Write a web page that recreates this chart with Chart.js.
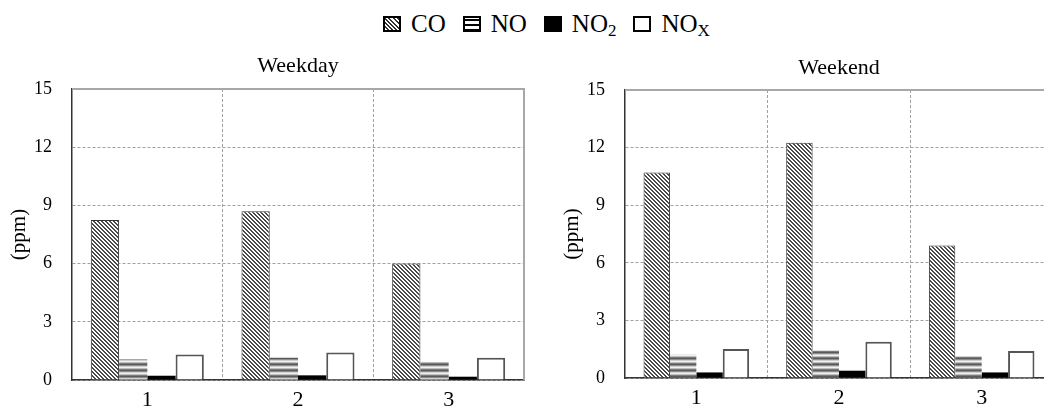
<!DOCTYPE html>
<html>
<head>
<meta charset="utf-8">
<script src="https://cdn.jsdelivr.net/npm/chart.js@4.4.1/dist/chart.umd.min.js"></script>
<style>
html, body { margin: 0; padding: 0; background: #fff; width: 1044px; height: 407px; overflow: hidden; }
body { position: relative; font-family: 'Liberation Serif', 'Times New Roman', serif; }
#legend { position: absolute; left: 383px; top: 10px; display: flex; align-items: baseline;
          font-size: 25px; line-height: 28px; color: #000; white-space: nowrap; }
#legend .item { display: flex; align-items: baseline; margin-right: 17px; }
#legend .box { display: inline-block; width: 14px; height: 12px; border: 2px solid #000; margin-right: 10px; box-sizing: content-box; }
#legend sub { font-size: 0.68em; vertical-align: -0.25em; line-height: 0; }
.wrap { position: absolute; top: 40px; }
</style>
</head>
<body>
<div id="legend"></div>
<div class="wrap" style="left:0px"><canvas id="weekday" width="540" height="400"></canvas></div>
<div class="wrap" style="left:553px"><canvas id="weekend" width="500" height="400"></canvas></div>
<script>
// sampling sites
const categories = ['1', '2', '3'];
const seriesLabels = ['CO', 'NO', 'NO₂', 'NOₓ'];
const legendLabels = ['CO', 'NO', 'NO<sub>2</sub>', 'NO<sub>X</sub>'];
const yTicks = [0, 3, 6, 9, 12, 15];

// Weekday (ppm)
const weekdayCO  = [8.25, 8.7, 6.0];
const weekdayNO  = [1.07, 1.15, 0.95];
const weekdayNO2 = [0.22, 0.24, 0.17];
const weekdayNOx = [1.32, 1.42, 1.15];

// Weekend (ppm)
const weekendCO  = [10.7, 12.25, 6.9];
const weekendNO  = [1.22, 1.43, 1.13];
const weekendNO2 = [0.29, 0.38, 0.29];
const weekendNOx = [1.51, 1.89, 1.41];

const FONT = 'Liberation Serif';

function tile(w, h, paint) {
    const c = document.createElement('canvas');
    c.width = w; c.height = h;
    const x = c.getContext('2d');
    paint(x);
    return x.createPattern(c, 'repeat');
}

// diagonal "\" hatching for CO
const hatch = tile(4, 4, x => {
    x.fillStyle = '#fff';
    x.fillRect(0, 0, 4, 4);
    x.fillStyle = '#4a4a4a';
    for (let i = 0; i < 4; i++) {
        x.fillRect(i, i, 1, 1);
        x.fillRect((i + 1) % 4, i, 1, 1);
    }
});

// grey horizontal bands for NO
const bands = tile(1, 6, x => {
    const rows = ['#5a5a5a', '#8c8c8c', '#cfcfcf', '#f2f2f2', '#bdbdbd', '#7a7a7a'];
    rows.forEach((c, i) => { x.fillStyle = c; x.fillRect(0, i, 1, 1); });
});

const styles = [
    { backgroundColor: hatch, borderColor: '#333', borderWidth: 1 },
    { backgroundColor: bands, borderWidth: 0 },
    { backgroundColor: '#000', borderWidth: 0 },
    { backgroundColor: '#fff', borderColor: '#555', borderWidth: 2 }
];

const legendBoxes = [
    'background: repeating-linear-gradient(45deg, #fff 0 1.5px, #333 1.5px 3px);',
    'background: repeating-linear-gradient(to bottom, #fff 0 1px, #000 1px 3px, #fff 3px 5px);',
    'background: #000;',
    'background: #fff;'
];

document.getElementById('legend').innerHTML = legendLabels.map((l, i) =>
    '<span class="item"><span class="box" style="' + legendBoxes[i] + '"></span><span>' + l + '</span></span>'
).join('');

const framePlugin = {
    id: 'frame',
    afterDatasetsDraw(chart) {
        const { ctx, chartArea: a } = chart;
        ctx.save();
        ctx.strokeStyle = '#a8a8a8';
        ctx.lineWidth = 2;
        ctx.beginPath();
        ctx.moveTo(a.left, a.top);
        ctx.lineTo(a.right, a.top);
        ctx.lineTo(a.right, a.bottom);
        ctx.stroke();
        ctx.restore();
    }
};

function makeChart(id, title, series, opt) {
    const config = {
        type: 'bar',
        data: {
            labels: categories,
            datasets: series.map((d, i) => Object.assign({
                label: seriesLabels[i],
                data: d,
                borderSkipped: 'start',
                categoryPercentage: opt.catPct,
                barPercentage: 1.0
            }, styles[i]))
        },
        options: {
            responsive: false,
            animation: false,
            layout: { padding: { left: 0, right: opt.padRight, top: 0, bottom: 0 } },
            plugins: {
                legend: { display: false },
                tooltip: { enabled: false },
                title: {
                    display: true,
                    text: title,
                    fullSize: false,
                    color: '#000',
                    font: { family: FONT, size: 22, weight: 'normal' },
                    padding: { top: opt.titleTop, bottom: opt.titleBottom }
                }
            },
            scales: {
                x: {
                    afterFit: s => { s.height = opt.xHeight; },
                    grid: { color: '#a0a0a0', lineWidth: 1, drawTicks: false, offset: true },
                    border: { color: '#333', width: 1.5, dash: [3, 2] },
                    ticks: { color: '#000', padding: 7, font: { family: FONT, size: 22 } }
                },
                y: {
                    min: 0,
                    max: 15,
                    afterFit: s => { s.width = 72; },
                    afterBuildTicks: s => { s.ticks = yTicks.map(v => ({ value: v })); },
                    grid: { color: '#a0a0a0', lineWidth: 1, drawTicks: false },
                    border: { color: '#333', width: 1.5, dash: [3, 2] },
                    ticks: { color: '#000', padding: 20, font: { family: FONT, size: 18 } },
                    title: {
                        display: true,
                        text: '(ppm)',
                        color: '#000',
                        font: { family: FONT, size: 21 },
                        padding: { top: 7, bottom: 0 }
                    }
                }
            }
        },
        plugins: [framePlugin]
    };
    return new Chart(document.getElementById(id), config);
}

makeChart('weekday', 'Weekday', [weekdayCO, weekdayNO, weekdayNO2, weekdayNOx],
    { catPct: 0.75, padRight: 16, titleTop: 13.3, titleBottom: 9.3, xHeight: 60 });
makeChart('weekend', 'Weekend', [weekendCO, weekendNO, weekendNO2, weekendNOx],
    { catPct: 0.74, padRight: 0, titleTop: 15.3, titleBottom: 8.3, xHeight: 62 });
</script>
</body>
</html>
